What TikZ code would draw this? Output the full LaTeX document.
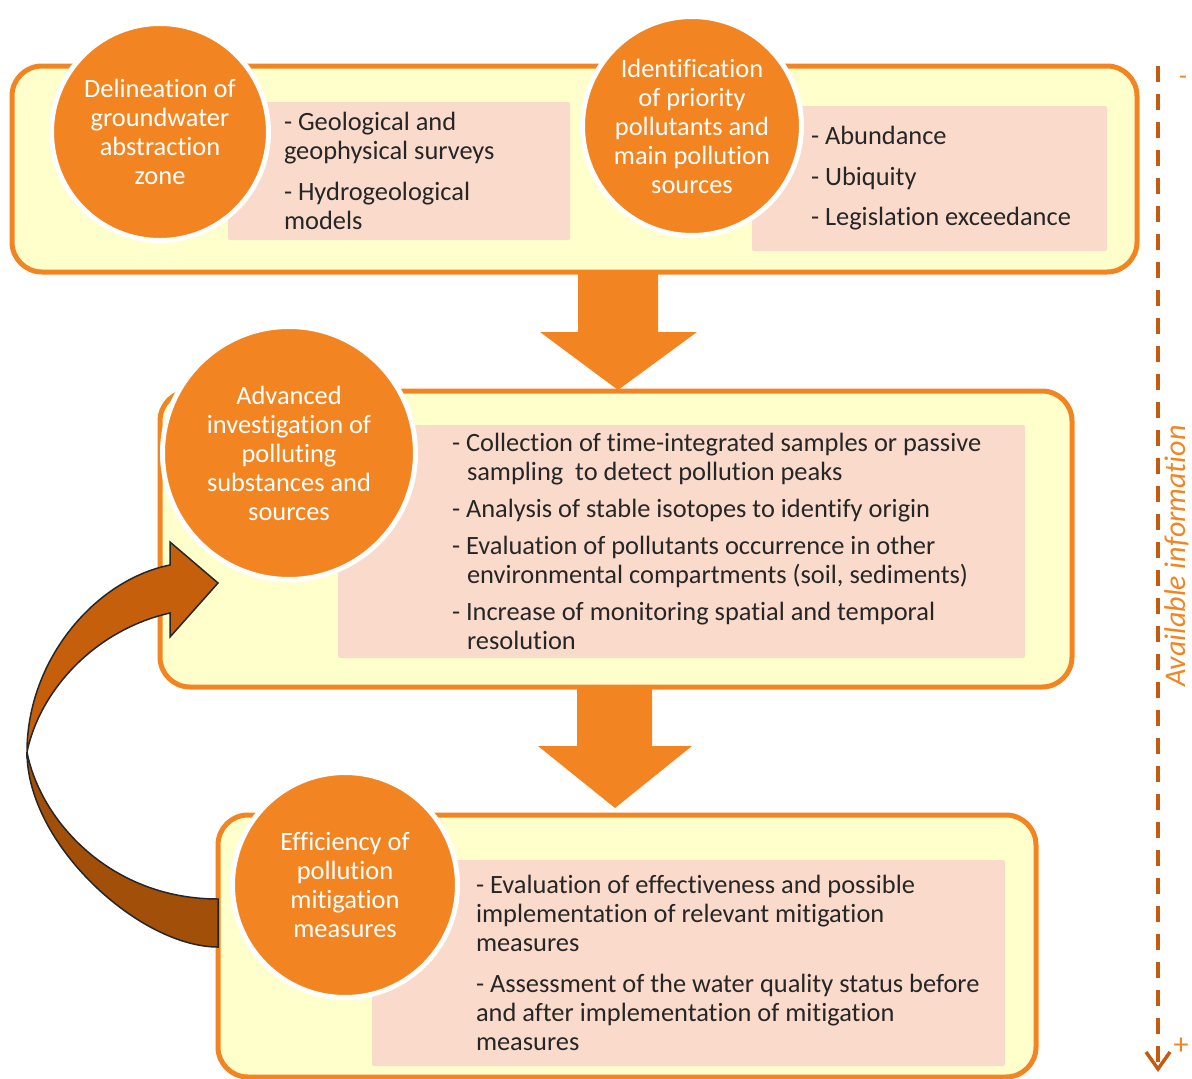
\documentclass[tikz,border=0pt]{standalone}
\usepackage{fontspec}
\setmainfont{Carlito}[Ligatures=NoCommon]
\usepackage{tikz}
\usetikzlibrary{arrows.meta, positioning}
\definecolor{stageorange}{HTML}{F28522}
\definecolor{stagefill}{HTML}{FFFFCC}
\definecolor{detailfill}{HTML}{FADACB}
\definecolor{textgray}{HTML}{262626}
\definecolor{axisorange}{HTML}{C55A11}
\definecolor{loopupper}{HTML}{C55F0B}
\definecolor{looplower}{HTML}{A14F09}
\newcommand{\diagfont}{\fontsize{26.4}{29}\selectfont}
\tikzset{
  stage/.style={
    draw=stageorange, fill=stagefill, line width=5pt,
    rounded corners=30pt, inner sep=0pt
  },
  detail/.style={fill=detailfill, rounded corners=2pt, inner sep=0pt},
  bubble/.style={
    circle, fill=stageorange, draw=white, line width=5pt,
    inner sep=0pt, text=white, font=\diagfont, align=center
  },
  itemlist/.style={font=\diagfont, text=textgray, align=left, inner sep=0pt},
  blockarrow/.style={fill=stageorange},
  loopedge/.style={draw=black!85, line width=1.5pt, line join=miter},
  axis/.style={
    draw=axisorange, line width=3.5pt, dash pattern=on 16pt off 12pt,
    -{Straight Barb[length=17pt, width=24pt, line width=3.5pt]}
  },
  axislabel/.style={text=stageorange, inner sep=0pt}
}

\begin{document}
\begin{tikzpicture}[x=1pt, y=-1pt]
    \useasboundingbox (0,0) rectangle (1192,1079);

    \fill[blockarrow] (578,272) -- (578,332) -- (540,332) -- (618,390)
      -- (697,332) -- (658,332) -- (658,272) -- cycle;
    \fill[blockarrow] (577,687) -- (577,746) -- (538,746) -- (615,808)
      -- (692,746) -- (652,746) -- (652,687) -- cycle;

    \node[stage, minimum width=1125pt, minimum height=206pt] (S1) at (574.5,169) {};
    \node[stage, minimum width=912pt, minimum height=296pt] (S2) at (616,539) {};
    \node[stage, minimum width=818pt, minimum height=262pt] (S3) at (627,946) {};

    \node[detail, minimum width=342pt, minimum height=138pt] (D1) at (399,171) {};
    \node[detail, minimum width=355pt, minimum height=145pt] (D2) at (929.5,178.5) {};
    \node[detail, minimum width=687pt, minimum height=233pt] (D3) at (681.5,541.5) {};
    \node[detail, minimum width=633pt, minimum height=206pt] (D4) at (688.5,963) {};

    \node[itemlist, right=56pt of D1.west] (T1) {%
      - Geological and\\ geophysical surveys\\[12pt]
      - Hydrogeological\\ models};
    \node[itemlist, right=59pt of D2.west] (T2) {%
      - Abundance\\[11.5pt] - Ubiquity\\[11.5pt] - Legislation exceedance};
    \node[itemlist, right=114pt of D3.west] (T3) {%
      - Collection of time-integrated samples or passive\\
      \hspace*{15pt}sampling\ \ to detect pollution peaks\\[8pt]
      - Analysis of stable isotopes to identify origin\\[8pt]
      - Evaluation of pollutants occurrence in other\\
      \hspace*{15pt}environmental compartments (soil, sediments)\\[8pt]
      - Increase of monitoring spatial and temporal\\
      \hspace*{15pt}resolution};
    \node[itemlist, right=104pt of D4.west] (T4) {%
      - Evaluation of effectiveness and possible\\
      implementation of relevant mitigation\\ measures\\[12pt]
      - Assessment of the water quality status before\\
      and after implementation of mitigation\\ measures};

    \node[bubble, minimum size=217pt] (C1) at (160,132) {%
      Delineation of\\ groundwater\\ abstraction\\ zone};
    \node[bubble, minimum size=219pt] (C2) at (692,126) {%
      Identification\\ of priority\\ pollutants and\\ main pollution\\ sources};
    \node[bubble, minimum size=253pt] (C3) at (289,453) {%
      Advanced\\ investigation of\\ polluting\\ substances and\\ sources};
    \node[bubble, minimum size=225pt] (C4) at (345,885) {%
      Efficiency of\\ pollution\\ mitigation\\ measures};

    \filldraw[loopedge, fill=looplower] (27,752) .. controls (27,845) and (140,947) .. (218,947)
      -- (218,899) .. controls (110,899) and (40,820) .. (27,752) -- cycle;
    \filldraw[loopedge, fill=loopupper] (27,752) .. controls (27,660) and (95,580) .. (170,565)
      -- (170,542) -- (218,583) -- (170,637) -- (170,613)
      .. controls (95,630) and (40,690) .. (27,752) -- cycle;

    \coordinate (top) at (1158,66);
    \coordinate (bottom) at (1158,1072);
    \draw[axis] (top) -- (bottom);
    \node[axislabel, font=\fontsize{26}{29}\selectfont] (minus) at (1183,80) {-};
    \node[axislabel, font=\fontsize{30}{30}\selectfont] (plus) at (1181,1046) {+};
    \node[axislabel, rotate=90, anchor=base, font=\fontsize{30}{30}\selectfont\itshape]
      (info) at (1185,556) {Available information};
  \end{tikzpicture}
\end{document}
